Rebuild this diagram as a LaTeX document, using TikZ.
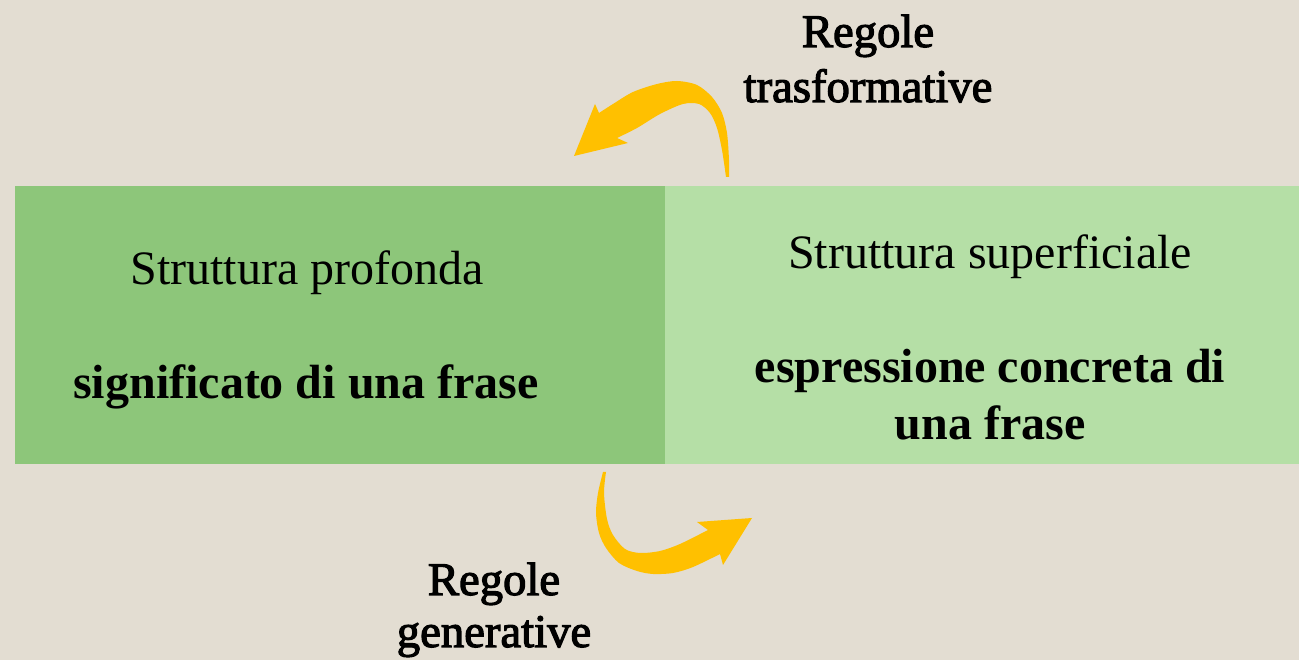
\documentclass[tikz,border=0pt]{standalone}
\usepackage{fontspec}
\setmainfont{Liberation Serif}
\newfontfamily\rulefont[FakeBold=2.5]{Liberation Serif}
\usepackage{tikz}
\usetikzlibrary{positioning}
\definecolor{bgsand}{HTML}{E3DDD2}
\definecolor{deepgreen}{HTML}{8DC67A}
\definecolor{palegreen}{HTML}{B5DFA6}
\definecolor{arrowgold}{HTML}{FFC000}

\begin{document}
\begin{tikzpicture}[x=0.75pt, y=0.75pt,
  block/.style={rectangle, fill=#1, draw=none, inner sep=0pt, minimum height=208.5pt},
  txt/.style={anchor=base, inner sep=0pt, font=\fontsize{36}{40}\selectfont},
  boldtxt/.style={anchor=base, inner sep=0pt, font=\fontsize{36}{40}\selectfont\bfseries},
  ruletxt/.style={anchor=base, inner sep=0pt, font=\fontsize{35}{40}\selectfont\rulefont}]
  % Background
  \fill[bgsand] (0,0) rectangle (1299,660);

  % Blocks
  \node[block=deepgreen, minimum width=487.5pt] (deep) at (340,335) {};
  \node[block=palegreen, minimum width=475.5pt] (surface) at (982,335) {};

  % Texts
  \node[txt] (deeptitle) at (307,375) {Struttura profonda};
  \node[boldtxt] (deepmeaning) at (306,261) {significato di una frase};
  \node[txt] (surftitle) at (990,391) {Struttura superficiale};
  \node[boldtxt] (surfexpr) at (990,277) {espressione concreta di};
  \node[boldtxt] (surfexpr2) at ([yshift=-42.75pt]surfexpr.base) {una frase};

  % Rule labels
  \node[ruletxt] (transf) at (868,613) {Regole};
  \node[ruletxt] (transf2) at ([yshift=-41.25pt]transf.base) {trasformative};
  \node[ruletxt] (gener) at (494,65) {Regole};
  \node[ruletxt] (gener2) at ([yshift=-39pt]gener.base) {generative};

  % Arrows
  \coordinate (ttail) at (728,483);
  \coordinate (ttip) at (574,504);
  \coordinate (btail) at (604,188);
  \coordinate (btip) at (752,142);
  \fill[arrowgold] (ttail) -- plot[smooth] coordinates {(729,483) (729,500) (727,527) (722,547) (712,563) (697,575) (677,579) (657,576) (633,568) (613,556) (599,547)}
    -- (595,556) -- (ttip) -- (628,517) -- (617,522)
    -- plot[smooth] coordinates {(617,522) (637,532) (660,546) (683,556) (699,556) (710,547) (717,532) (722,510) (726,483)} -- cycle;
  \fill[arrowgold] (btail) -- plot[smooth] coordinates {(603,188) (598,167) (596,147) (599,127) (606,112) (619,97) (637,89) (653,86) (673,87) (693,93) (720,106)}
    -- (723,95) -- (btip) -- (697,138) -- (708,130)
    -- plot[smooth] coordinates {(708,130) (680,116) (660,109) (640,107) (625,111) (613,125) (607,141) (604,167) (606,188)} -- cycle;
\end{tikzpicture}
\end{document}
